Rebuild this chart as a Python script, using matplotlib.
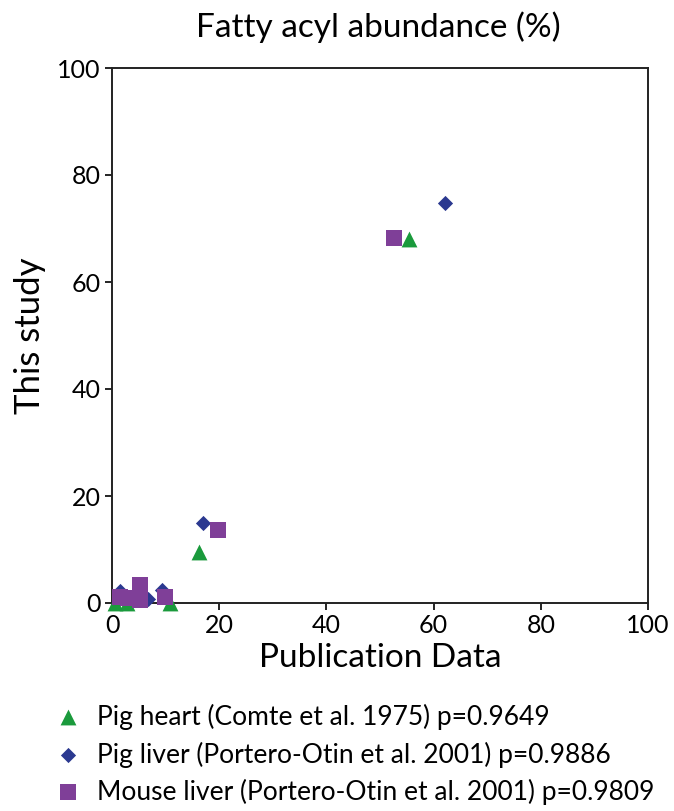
import matplotlib
matplotlib.use("Agg")
import matplotlib.pyplot as plt

plt.rcParams['font.family'] = ['Lato', 'DejaVu Sans']

# Data (Publication Data x, This study y)
heart_x = [0.5, 2.8, 10.8, 16.2, 55.4]
heart_y = [0.0, 0.0, 0.0, 9.6, 68.0]
pigliver_x = [1.5, 6.7, 9.3, 17.0, 62.1]
pigliver_y = [2.2, 0.7, 2.4, 14.9, 74.8]
mouse_x = [1.5, 3.0, 5.2, 5.2, 9.9, 19.8, 52.6]
mouse_y = [1.2, 1.0, 3.4, 0.6, 1.1, 13.7, 68.3]

labels = ["Pig heart (Comte et al. 1975) p=0.9649",
          "Pig liver (Portero-Otin et al. 2001) p=0.9886",
          "Mouse liver (Portero-Otin et al. 2001) p=0.9809"]
green = "#1a9a3c"
blue = "#2b3990"
purple = "#7f3f98"

fig = plt.figure(figsize=(6.74, 8.11), dpi=100)
ax = fig.add_axes([112/674, 1-603/811, (648-112)/674, (603-68)/811])

ax.scatter(heart_x, heart_y, marker='^', s=130, color=green, zorder=3, linewidths=0, clip_on=False)
ax.scatter(pigliver_x, pigliver_y, marker='D', s=60, color=blue, zorder=3, linewidths=0, clip_on=False)
ax.scatter(mouse_x, mouse_y, marker='s', s=120, color=purple, zorder=4, linewidths=0, clip_on=False)

ax.set_xlim(0, 100)
ax.set_ylim(0, 100)
ax.set_xticks(range(0, 101, 20))
ax.set_yticks(range(0, 101, 20))
ax.tick_params(direction='out', length=5, width=1.2, labelsize=18, pad=3)
for s in ax.spines.values():
    s.set_linewidth(1.4)
    s.set_color('#222222')

ax.set_xlabel("Publication Data", fontsize=24, labelpad=4)
ax.set_ylabel("This study", fontsize=25, labelpad=8)
fig.text(378/674, 1-27/811, "Fatty acyl abundance (%)", ha='center', va='center', fontsize=24)

# Legend below
ys = [717, 755, 792]
markers = ['^', 'D', 's']
colors = [green, blue, purple]
sizes = [130, 60, 120]
lax = fig.add_axes([0, 0, 1, 1], facecolor='none')
lax.set_xlim(0, 674)
lax.set_ylim(811, 0)
lax.axis('off')
for y, m, c, sz, lb in zip(ys, markers, colors, sizes, labels):
    lax.scatter([68], [y], marker=m, s=sz, color=c, linewidths=0)
    lax.text(97, y, lb, va='center', ha='left', fontsize=19)

fig.savefig("out.png", dpi=100)
